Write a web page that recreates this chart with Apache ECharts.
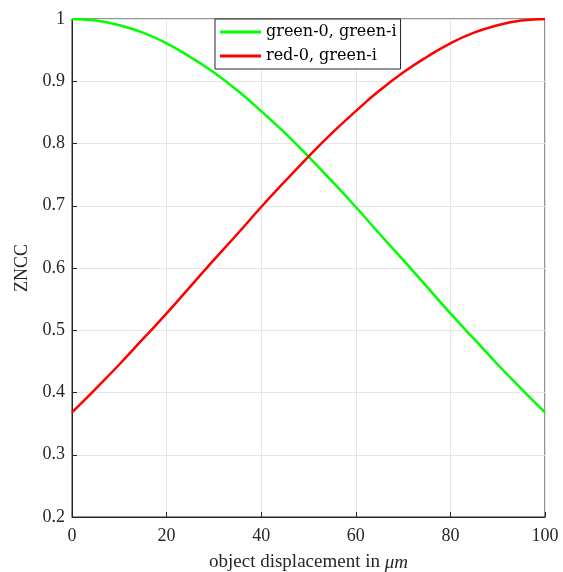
<!DOCTYPE html>
<html>
<head>
<meta charset="utf-8">
<script src="https://cdn.jsdelivr.net/npm/echarts@6/dist/echarts.min.js"></script>
<style>
  html, body { margin: 0; padding: 0; background: #fff; }
  #chart { width: 563px; height: 572px; }
</style>
</head>
<body>
<div id="chart"></div>
<script>
// displacement (um) sampled along the curves
var displacement = [0, 5, 10, 15, 20, 25, 30, 35, 40, 45, 50, 55, 60, 65, 70, 75, 80, 85, 90, 95, 100];
// values
var greenGreen = [1.000, 0.9975, 0.990, 0.978, 0.961, 0.939, 0.914, 0.885, 0.852, 0.817, 0.779,
                  0.739, 0.698, 0.655, 0.613, 0.570, 0.527, 0.486, 0.445, 0.406, 0.368];
var redGreen = [0.368, 0.406, 0.445, 0.486, 0.527, 0.570, 0.613, 0.655, 0.698, 0.739, 0.779,
                0.817, 0.852, 0.885, 0.914, 0.939, 0.961, 0.978, 0.990, 0.9975, 1.000];
var seriesNames = ['green-0, green-i', 'red-0, green-i'];

function pairs(ys) {
    return displacement.map(function (x, i) { return [x, ys[i]]; });
}

var font = 'Liberation Serif';
var axisColor = '#262626';

var myChart = echarts.init(document.getElementById('chart'));
var option = {
    animation: false,
    backgroundColor: '#fff',
    grid: {
        left: 72, right: 18, top: 19, bottom: 55,
        outerBoundsMode: 'none',
        containLabel: false,
        show: true, borderColor: axisColor, borderWidth: 1, backgroundColor: 'transparent'
    },
    legend: {
        orient: 'vertical',
        left: 215, top: 19,
        backgroundColor: '#fff',
        borderColor: axisColor,
        borderWidth: 1,
        borderRadius: 0,
        padding: [5, 4, 5, 5],
        itemGap: 8,
        itemWidth: 41,
        itemHeight: 3,
        icon: 'rect',
        textStyle: { fontFamily: 'DejaVu Serif', fontSize: 16, color: '#000' },
        data: seriesNames
    },
    xAxis: {
        type: 'value',
        min: 0, max: 100, interval: 20,
        name: '{n|object displacement in }{i|μm}',
        nameLocation: 'middle',
        nameGap: 36,
        nameTextStyle: {
            rich: {
                n: { fontFamily: font, fontSize: 19, color: '#262626' },
                i: { fontFamily: font, fontSize: 19, fontStyle: 'italic', color: '#262626' }
            }
        },
        axisLine: { lineStyle: { color: axisColor } },
        axisTick: { inside: true, length: 5, lineStyle: { color: axisColor } },
        axisLabel: { fontFamily: font, fontSize: 18, color: '#262626', margin: 10 },
        splitLine: { show: true, lineStyle: { color: '#e6e6e6' } }
    },
    yAxis: {
        type: 'value',
        min: 0.2, max: 1, interval: 0.1,
        name: 'ZNCC',
        nameLocation: 'middle',
        nameGap: 29,
        nameTextStyle: { fontFamily: font, fontSize: 18, color: '#262626' },
        axisLine: { lineStyle: { color: axisColor } },
        axisTick: { inside: true, length: 5, lineStyle: { color: axisColor } },
        axisLabel: {
            fontFamily: font, fontSize: 18, color: '#262626', margin: 7,
            formatter: function (v) { return v === 1 ? '1' : v.toFixed(1); }
        },
        splitLine: { show: true, lineStyle: { color: '#e6e6e6' } }
    },
    series: [
        {
            name: seriesNames[0], type: 'line', data: pairs(greenGreen),
            smooth: true, showSymbol: false,
            lineStyle: { color: '#00ff00', width: 2.5 }, itemStyle: { color: '#00ff00' }
        },
        {
            name: seriesNames[1], type: 'line', data: pairs(redGreen),
            smooth: true, showSymbol: false,
            lineStyle: { color: '#ff0000', width: 2.5 }, itemStyle: { color: '#ff0000' }
        }
    ]
};
myChart.setOption(option);
</script>
</body>
</html>
